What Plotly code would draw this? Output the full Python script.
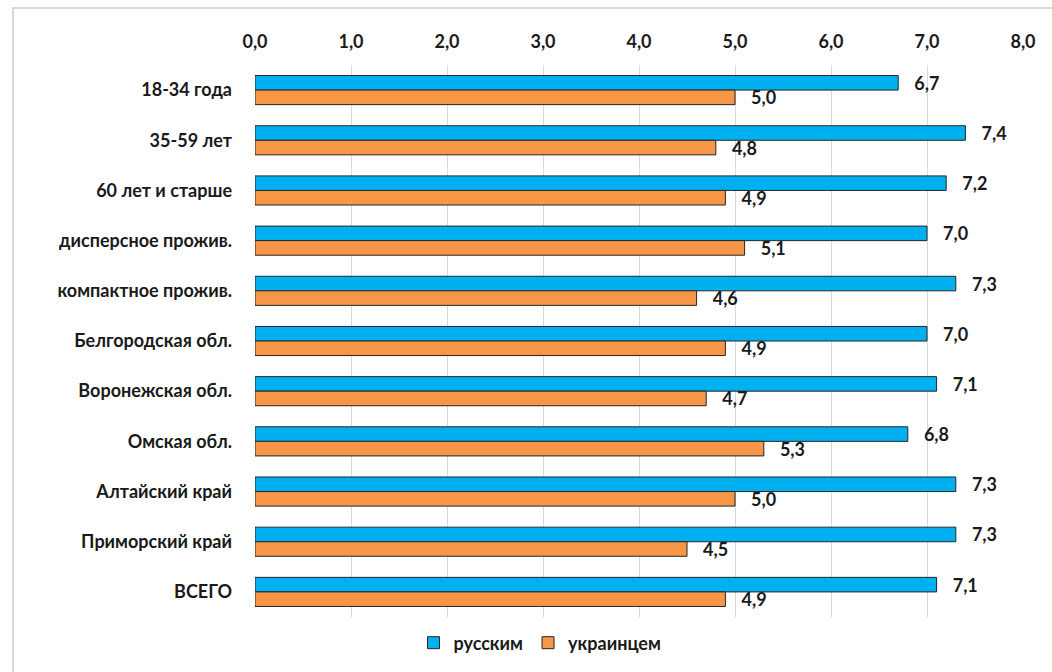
import plotly.graph_objects as go

categories = [
    "18-34 года",
    "35-59 лет",
    "60 лет и старше",
    "дисперсное прожив.",
    "компактное прожив.",
    "Белгородская обл.",
    "Воронежская обл.",
    "Омская обл.",
    "Алтайский край",
    "Приморский край",
    "ВСЕГО",
]
russians = [6.7, 7.4, 7.2, 7.0, 7.3, 7.0, 7.1, 6.8, 7.3, 7.3, 7.1]
ukrainians = [5.0, 4.8, 4.9, 5.1, 4.6, 4.9, 4.7, 5.3, 5.0, 4.5, 4.9]
x_ticks = [0, 1, 2, 3, 4, 5, 6, 7, 8]

FONT = "Lato, 'Open Sans', sans-serif"
BLUE = "#00B0F0"
ORANGE = "#F79646"
EDGE = "#262626"
TXT = "#1a1a1a"
PAD = "\u00a0\u00a0\u00a0"

fig = go.Figure()
for name, vals, color in [("русским", russians, BLUE), ("украинцем", ukrainians, ORANGE)]:
    fig.add_trace(go.Bar(
        y=categories,
        x=vals,
        name=name,
        orientation="h",
        marker=dict(color=color, line=dict(color=EDGE, width=1)),
        text=vals,
        texttemplate=PAD + "%{x:.1f}",
        textposition="outside",
        constraintext="none",
        textfont=dict(family=FONT, size=18, color=TXT, weight="bold"),
        cliponaxis=False,
    ))

W, H = 1052, 672
ml, mr, mt, mb = 255, 29, 65, 55
pw, ph = W - ml - mr, H - mt - mb

def px_x(p):
    return (p - ml) / pw

def px_y(p):
    return (H - mb - p) / ph

fig.update_layout(
    width=W,
    height=H,
    autosize=False,
    margin=dict(l=ml, r=mr, t=mt, b=mb, autoexpand=False),
    paper_bgcolor="white",
    plot_bgcolor="white",
    separators=", ",
    barmode="group",
    bargap=0.42,
    bargroupgap=0,
    font=dict(family=FONT, size=18, color=TXT),
    xaxis=dict(
        side="top",
        range=[0, 8],
        tickvals=x_ticks,
        tickformat=".1f",
        showgrid=True,
        gridcolor="#D9D9D9",
        gridwidth=1,
        zeroline=False,
        showline=False,
        ticks="",
        ticklabelstandoff=12,
        tickfont=dict(family=FONT, size=18, color=TXT, weight="bold"),
    ),
    yaxis=dict(
        autorange="reversed",
        showgrid=False,
        showline=False,
        ticks="",
        ticklabelstandoff=22,
        tickfont=dict(family=FONT, size=18, color=TXT, weight="bold"),
    ),
    legend=dict(
        orientation="h",
        xref="paper",
        yref="paper",
        x=px_x(540),
        xanchor="center",
        y=px_y(643),
        yanchor="middle",
        font=dict(family=FONT, size=18, color=TXT, weight="bold"),
        traceorder="normal",
        bgcolor="rgba(0,0,0,0)",
    ),
    shapes=[
        dict(
            type="rect",
            xref="paper",
            yref="paper",
            x0=px_x(13),
            x1=px_x(1060),
            y0=px_y(690),
            y1=px_y(8),
            line=dict(color="#D9D9D9", width=2),
            fillcolor="rgba(0,0,0,0)",
            layer="below",
        )
    ],
)

fig.write_html("out.html")
